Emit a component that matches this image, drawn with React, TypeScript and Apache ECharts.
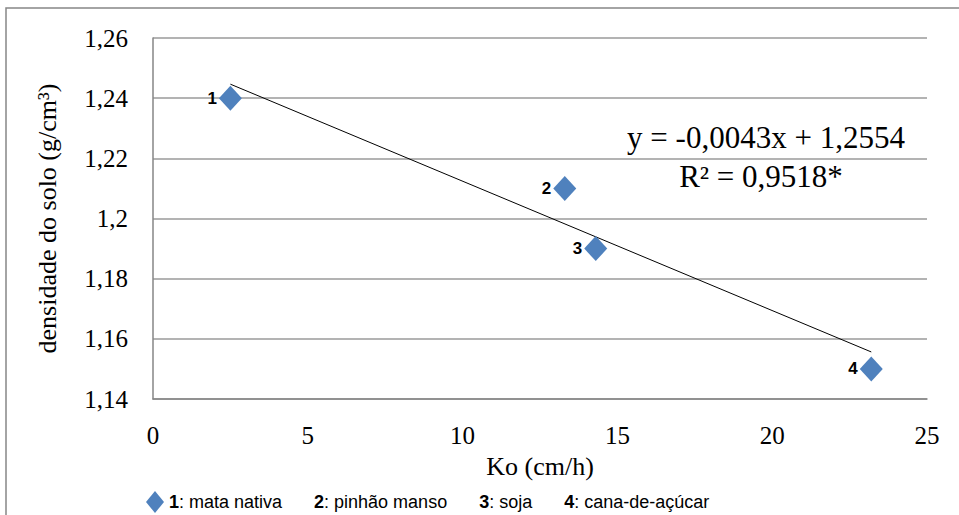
import React, { useEffect, useRef } from "react";
import * as echarts from "echarts";

const pointLabels = ["1", "2", "3", "4"];
const koValues = [2.5, 13.3, 14.3, 23.2];
const densityValues = [1.24, 1.21, 1.19, 1.15];
const trendSlope = -0.0043;
const trendIntercept = 1.2554;
const equationText = "y = -0,0043x + 1,2554";
const r2Text = "R² = 0,9518*";
const legendParts = [
  ["1", "mata nativa"],
  ["2", "pinhão manso"],
  ["3", "soja"],
  ["4", "cana-de-açúcar"],
];

const serif = "Liberation Serif";
const sans = "Liberation Sans";

export default function App() {
  const ref = useRef<HTMLDivElement>(null);
  useEffect(() => {
    document.body.style.margin = "0";
    const chart = echarts.init(ref.current!, null, { renderer: "svg" });
    const xMin = Math.min(...koValues);
    const xMax = Math.max(...koValues);
    const trend = [
      [xMin, trendIntercept + trendSlope * xMin],
      [xMax, trendIntercept + trendSlope * xMax],
    ];
    const legendStr = legendParts
      .map(([n, t]) => `{b|${n}}{n|: ${t}}`)
      .join("{g| }");
    chart.setOption({
      animation: false,
      grid: { left: 153, right: 32, top: 38, bottom: 116 },
      xAxis: {
        type: "value",
        min: 0,
        max: 25,
        interval: 5,
        name: "Ko (cm/h)",
        nameLocation: "middle",
        nameGap: 54,
        nameTextStyle: { fontFamily: serif, fontSize: 26, color: "#000" },
        axisLine: { show: true, lineStyle: { color: "#868686", width: 1.5 } },
        axisTick: { show: false },
        splitLine: { show: false },
        axisLabel: { fontFamily: serif, fontSize: 25, color: "#000", margin: 24 },
      },
      yAxis: {
        type: "value",
        min: 1.14,
        max: 1.26,
        interval: 0.02,
        name: "densidade do solo (g/cm³)",
        nameLocation: "middle",
        nameGap: 93,
        nameTextStyle: { fontFamily: serif, fontSize: 26, color: "#000" },
        axisLine: { show: true, lineStyle: { color: "#868686", width: 1.5 } },
        axisTick: { show: false },
        splitLine: { show: true, lineStyle: { color: "#9a9a9a", width: 1.5 } },
        axisLabel: {
          fontFamily: serif,
          fontSize: 25,
          color: "#000",
          margin: 25,
          formatter: (v: number) => String(Number(v.toFixed(2))).replace(".", ","),
        },
      },
      legend: {
        left: 141,
        top: 486,
        itemWidth: 18,
        itemHeight: 22,
        data: [{ name: "pts", icon: "diamond" }],
        formatter: () => legendStr,
        textStyle: {
          fontFamily: sans,
          fontSize: 18,
          rich: {
            b: { fontFamily: sans, fontSize: 18, fontWeight: "bold", color: "#000" },
            n: { fontFamily: sans, fontSize: 18, color: "#000" },
            g: { fontFamily: sans, fontSize: 18, width: 32 },
          },
        },
      },
      series: [
        {
          name: "pts",
          type: "scatter",
          symbol: "diamond",
          symbolSize: [23, 25],
          itemStyle: { color: "#4F81BD", opacity: 1 },
          data: koValues.map((x, i) => ({ value: [x, densityValues[i]], name: pointLabels[i] })),
          label: {
            show: true,
            position: "left",
            distance: 2,
            formatter: (p: any) => p.name,
            fontFamily: sans,
            fontWeight: "bold",
            fontSize: 17,
            color: "#000",
          },
          z: 3,
        },
        {
          name: "trend",
          type: "line",
          data: trend,
          symbol: "none",
          lineStyle: { color: "#000", width: 1 },
          z: 2,
        },
      ],
      graphic: [
        {
          type: "rect",
          shape: { x: 6, y: 8, width: 1200, height: 800 },
          style: { fill: "none", stroke: "#868686", lineWidth: 1.5 },
          silent: true,
        },
        {
          type: "text",
          x: 766,
          y: 137,
          style: {
            text: equationText,
            fontFamily: serif,
            fontSize: 31,
            fill: "#000",
            align: "center",
            verticalAlign: "middle",
          },
        },
        {
          type: "text",
          x: 761,
          y: 176,
          style: {
            text: r2Text,
            fontFamily: serif,
            fontSize: 31,
            fill: "#000",
            align: "center",
            verticalAlign: "middle",
          },
        },
      ],
    });
    return () => chart.dispose();
  }, []);
  return <div ref={ref} style={{ width: 959, height: 515 }} />;
}
